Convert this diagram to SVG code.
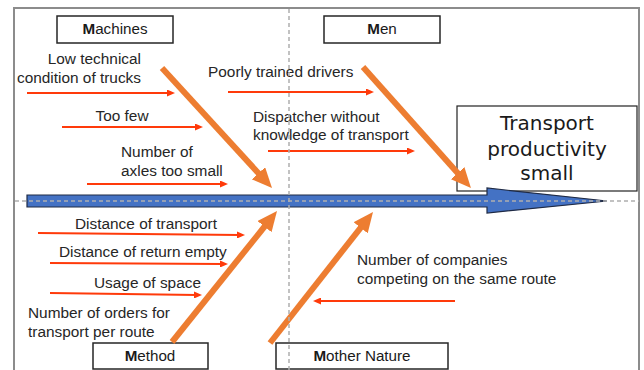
<svg xmlns="http://www.w3.org/2000/svg" width="644" height="370" viewBox="0 0 644 370">
<style>
.t{font-family:"Liberation Sans",Arial,sans-serif;font-size:15.4px;fill:#262626}
.cat{font-family:"Liberation Sans",Arial,sans-serif;font-size:15.2px;fill:#1a1a1a;text-anchor:middle}
.box{fill:#fff;stroke:#262626;stroke-width:1.5}
.bone{stroke:#ED7D31;stroke-width:6;fill:none;marker-end:url(#oh)}
.red{stroke:#FF3A0A;stroke-width:2;fill:none;marker-end:url(#rh)}
.grid{stroke:#AFAFAF;stroke-width:1.5;stroke-dasharray:4 3;fill:none}
.eff{font-family:"DejaVu Sans",Verdana,sans-serif;font-size:20px;fill:#1a1a1a;text-anchor:middle}
</style>
<defs>
<marker id="oh" markerUnits="userSpaceOnUse" viewBox="0 0 20 18" markerWidth="20" markerHeight="18" refX="4" refY="9" orient="auto"><path d="M0,0 L20,9 L0,18 z" fill="#ED7D31"/></marker>
<marker id="rh" markerUnits="userSpaceOnUse" viewBox="0 0 8 7" markerWidth="8" markerHeight="7" refX="3" refY="3.5" orient="auto"><path d="M0,0 L8,3.5 L0,7 z" fill="#FF3A0A"/></marker>
</defs>
<rect x="0" y="0" width="644" height="370" fill="#fff"/>
<rect x="14" y="8" width="625" height="372" fill="#fff" stroke="#8C8C8C" stroke-width="2"/>

<g id="effect">
<rect x="457" y="106" width="180" height="85" fill="#fff" stroke="#222" stroke-width="1.2"/>
<text class="eff" x="547" y="130">Transport</text>
<text class="eff" x="547" y="155.5">productivity</text>
<text class="eff" x="547" y="180">small</text>
</g>

<g id="spine">
<path d="M27,195 H487 V188 L607,201 L487,213 V207 H27 Z" fill="#4472C4" stroke="#1F2A44" stroke-width="1.2"/>
</g>

<g id="cat-machines"><rect class="box" x="57" y="16" width="116" height="27"/><text class="cat" x="115" y="34"><tspan font-weight="bold">M</tspan>achines</text></g>
<g id="cat-men"><rect class="box" x="324" y="16" width="116" height="27"/><text class="cat" x="382" y="34"><tspan font-weight="bold">M</tspan>en</text></g>
<g id="cat-method"><rect class="box" x="93" y="343" width="115" height="26"/><text class="cat" x="150" y="361"><tspan font-weight="bold">M</tspan>ethod</text></g>
<g id="cat-nature"><rect class="box" x="276" y="343" width="172" height="26"/><text class="cat" x="362" y="361"><tspan font-weight="bold">M</tspan>other Nature</text></g>

<g id="connectors">
<path class="bone" d="M162,68 L261.2,176.2"/>
<path class="bone" d="M363,67 L460.3,176.1"/>
<path class="bone" d="M172,342 L267,223.5"/>
<path class="bone" d="M270,343 L363.1,224.6"/>
<path class="red" d="M27,93 H170"/>
<path class="red" d="M62,127 H198"/>
<path class="red" d="M87,184 H223"/>
<path class="red" d="M228,92 H369"/>
<path class="red" d="M268,151 H410"/>
<path class="red" d="M38,233 L240,235"/>
<path class="red" d="M50,263 L223,264"/>
<path class="red" d="M50,293 L197,295"/>
<path class="red" d="M455,301 H318"/>
</g>

<g id="causes">
<text class="t" x="141" y="64" text-anchor="end">Low technical</text>
<text class="t" x="141" y="83" text-anchor="end">condition of trucks</text>
<text class="t" x="122" y="121" text-anchor="middle">Too few</text>
<text class="t" x="121" y="157">Number of</text>
<text class="t" x="121" y="176">axles too small</text>
<text class="t" x="208" y="77">Poorly trained drivers</text>
<text class="t" x="253" y="122">Dispatcher without</text>
<text class="t" x="253" y="140">knowledge of transport</text>
<text class="t" x="75" y="229">Distance of transport</text>
<text class="t" x="59" y="257">Distance of return empty</text>
<text class="t" x="94" y="288">Usage of space</text>
<text class="t" x="28" y="318">Number of orders for</text>
<text class="t" x="28" y="337">transport per route</text>
<text class="t" x="357" y="265">Number of companies</text>
<text class="t" x="357" y="284">competing on the same route</text>
</g>

<g id="gridlines">
<path class="grid" d="M289,9 V370"/>
<path class="grid" d="M15,201 H639"/>
</g>
</svg>
